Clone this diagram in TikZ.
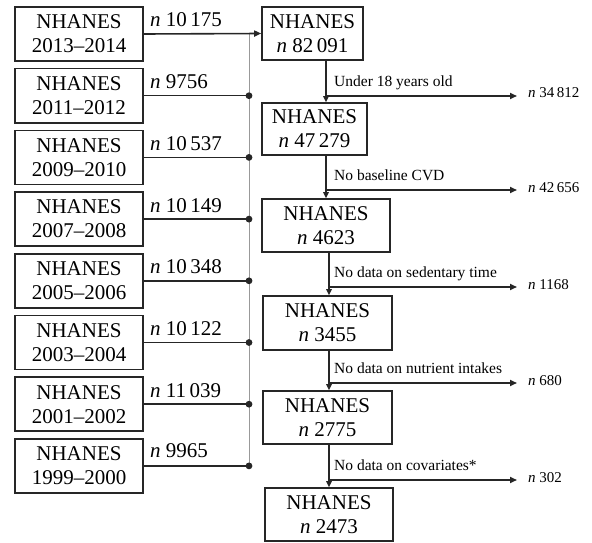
\documentclass[tikz,border=0pt]{standalone}
\usepackage{fontspec}
\setmainfont{Liberation Serif}
\usetikzlibrary{arrows.meta}
\begin{document}
\begin{tikzpicture}[x=1pt,y=-1pt,
  box/.style={draw=black!85, line width=1.6pt, align=center, inner sep=0pt, minimum height=54pt, font=\fontsize{21}{24}\selectfont},
  lbox/.style={box, minimum width=128pt},
  cnt/.style={anchor=base west, inner sep=0pt, font=\fontsize{21}{24}\selectfont},
  lbl/.style={anchor=base west, inner sep=0pt, font=\fontsize{15.5}{18}\selectfont},
  outl/.style={anchor=base west, inner sep=0pt, font=\fontsize{15}{18}\selectfont},
  conn/.style={line width=1.6pt, draw=black!85},
  arr/.style={conn, -{Triangle[length=7pt,width=6pt]}},
  varr/.style={conn, -{Triangle[length=6pt,width=5.5pt]}},
  spine/.style={line width=1pt, draw=gray!80}
]
\useasboundingbox (0,0) rectangle (592,543);

% left boxes
\node[lbox] (L1) at (79,34)    {NHANES\\2013--2014};
\node[lbox] (L2) at (79,95.7)  {NHANES\\2011--2012};
\node[lbox] (L3) at (79,157.4) {NHANES\\2009--2010};
\node[lbox] (L4) at (79,219.1) {NHANES\\2007--2008};
\node[lbox] (L5) at (79,280.8) {NHANES\\2005--2006};
\node[lbox] (L6) at (79,342.5) {NHANES\\2003--2004};
\node[lbox] (L7) at (79,404.2) {NHANES\\2001--2002};
\node[lbox] (L8) at (79,465.9) {NHANES\\1999--2000};

% counts
\node[cnt] (c1) at (150,27)    {\textit{n} 10\,175};
\node[cnt] (c2) at (150,88.7)  {\textit{n} 9756};
\node[cnt] (c3) at (150,150.4) {\textit{n} 10\,537};
\node[cnt] (c4) at (150,212.1) {\textit{n} 10\,149};
\node[cnt] (c5) at (150,273.8) {\textit{n} 10\,348};
\node[cnt] (c6) at (150,335.5) {\textit{n} 10\,122};
\node[cnt] (c7) at (150,397.2) {\textit{n} 11\,039};
\node[cnt] (c8) at (150,457.9) {\textit{n} 9965};

% right boxes
\node[box, minimum width=101pt, minimum height=53pt] (A) at (312.5,33.5) {NHANES\\\textit{n} 82\,091};
\node[box, minimum width=105pt, minimum height=52pt] (B) at (314.5,129)  {NHANES\\\textit{n} 47\,279};
\node[box, minimum width=128pt, minimum height=53pt] (C) at (326,225.5)  {NHANES\\\textit{n} 4623};
\node[box, minimum width=129pt, minimum height=54pt] (D) at (327.5,323)  {NHANES\\\textit{n} 3455};
\node[box, minimum width=129pt, minimum height=53pt] (E) at (327.5,417.5) {NHANES\\\textit{n} 2775};
\node[box, minimum width=128pt, minimum height=53pt] (F) at (329,514.5)  {NHANES\\\textit{n} 2473};

% spine
\coordinate (s1) at (249,34);
\draw[spine] (s1) -- (L8.east -| s1);
\draw[arr] (L1.east) -- (A.west);
\foreach \i in {2,...,8}{
  \draw[conn] (L\i.east) -- (L\i.east -| s1);
  \fill[black!85] (L\i.east -| s1) circle (3.4pt);
}

% branches
\coordinate (b1) at (326,96);
\coordinate (b2) at (326,190);
\coordinate (b3) at (329,287);
\coordinate (b4) at (329,383);
\coordinate (b5) at (329,480);
\coordinate (t1) at (517,96);
\coordinate (t2) at (517,190);
\coordinate (t3) at (517,287);
\coordinate (t4) at (517,383);
\coordinate (t5) at (517,480);

\node[lbl] (u1) at (334,86)  {Under 18 years old};
\node[lbl] (u2) at (334,180) {No baseline CVD};
\node[lbl] (u3) at (334,277) {No data on sedentary time};
\node[lbl] (u4) at (334,373) {No data on nutrient intakes};
\node[lbl] (u5) at (334,470) {No data on covariates*};

\node[outl] (o1) at (528,98)  {\textit{n} 34\,812};
\node[outl] (o2) at (528,192) {\textit{n} 42\,656};
\node[outl] (o3) at (528,289) {\textit{n} 1168};
\node[outl] (o4) at (528,385) {\textit{n} 680};
\node[outl] (o5) at (528,482) {\textit{n} 302};

\draw[conn] (A.south -| b1) -- (b1);
\draw[varr] (b1) -- (B.north -| b1);
\draw[arr] (b1) -- (t1);
\draw[conn] (B.south -| b2) -- (b2);
\draw[varr] (b2) -- (C.north -| b2);
\draw[arr] (b2) -- (t2);
\draw[conn] (C.south -| b3) -- (b3);
\draw[varr] (b3) -- (D.north -| b3);
\draw[arr] (b3) -- (t3);
\draw[conn] (D.south -| b4) -- (b4);
\draw[varr] (b4) -- (E.north -| b4);
\draw[arr] (b4) -- (t4);
\draw[conn] (E.south -| b5) -- (b5);
\draw[varr] (b5) -- (F.north -| b5);
\draw[arr] (b5) -- (t5);
\end{tikzpicture}
\end{document}
